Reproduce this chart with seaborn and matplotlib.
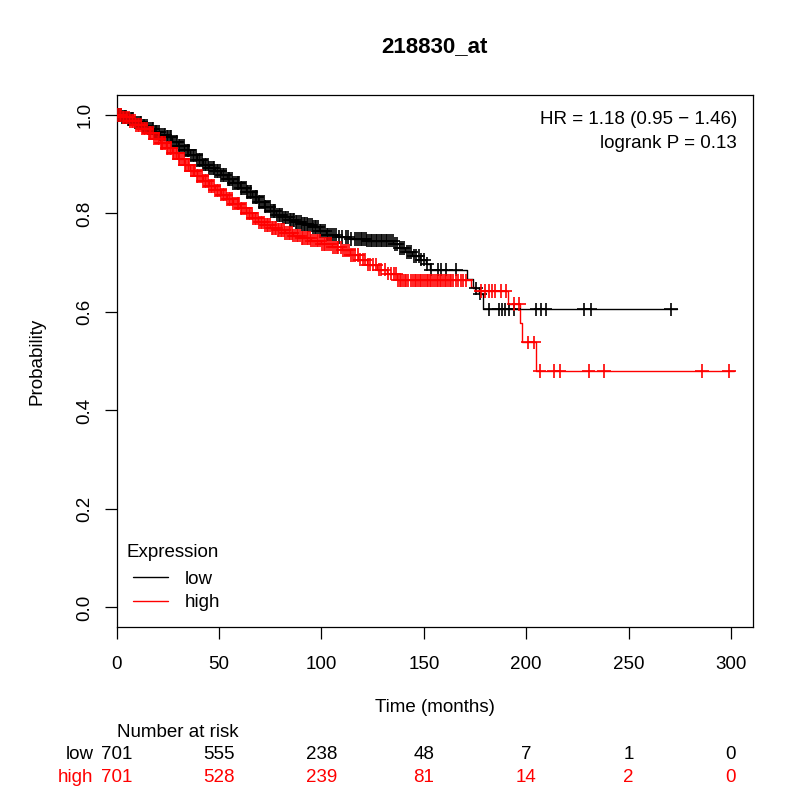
import numpy as np
import pandas as pd
import seaborn as sns
import matplotlib
import matplotlib.pyplot as plt
from matplotlib.lines import Line2D

matplotlib.use('Agg')

# Кривые Каплана-Мейера (время, вероятность)
low_time = [0, 2, 5, 9, 12, 15, 18, 21, 24, 27, 30, 33, 36, 39, 42, 45, 48, 51, 54, 57,
            60, 63, 66, 69, 72, 75, 78, 81, 84, 87, 90, 93, 96, 99, 102, 108, 114, 122,
            135, 138, 141, 144, 148, 151, 153, 171, 174, 177, 179, 273.6]
low_surv = [1.0, 0.996, 0.992, 0.985, 0.978, 0.972, 0.965, 0.960, 0.955, 0.945, 0.937,
            0.928, 0.918, 0.908, 0.899, 0.892, 0.886, 0.878, 0.870, 0.862, 0.852, 0.843,
            0.833, 0.823, 0.814, 0.805, 0.797, 0.792, 0.787, 0.783, 0.779, 0.776, 0.772,
            0.764, 0.757, 0.752, 0.748, 0.745, 0.738, 0.730, 0.722, 0.714, 0.706, 0.697,
            0.686, 0.666, 0.648, 0.637, 0.605, 0.605]

high_time = [0, 3, 6, 9, 12, 15, 18, 21, 24, 27, 30, 33, 36, 39, 42, 45, 48, 51, 54, 57,
             60, 63, 66, 69, 72, 75, 78, 82, 86, 90, 95, 100, 105, 110, 114, 118, 122,
             127, 132, 137, 173, 175, 191, 197, 198, 204.6, 301.5]
high_surv = [1.0, 0.995, 0.988, 0.980, 0.972, 0.963, 0.952, 0.943, 0.933, 0.922, 0.910,
             0.898, 0.887, 0.876, 0.866, 0.856, 0.847, 0.838, 0.829, 0.820, 0.810, 0.800,
             0.790, 0.782, 0.776, 0.770, 0.766, 0.760, 0.755, 0.750, 0.745, 0.738, 0.731,
             0.725, 0.716, 0.706, 0.696, 0.686, 0.678, 0.664, 0.651, 0.643, 0.616, 0.577,
             0.538, 0.480, 0.480]

# Цензурированные наблюдения (месяцы)
low_censor = [
    0.4, 1.1, 1.9, 2.4, 3.3, 3.9, 4.6, 5.4, 5.9, 6.8, 7.5, 8.1, 9.0, 9.6, 10.4, 11.2,
    11.7, 12.6, 13.3, 13.9, 14.8, 15.4, 16.2, 17.1, 17.6, 18.5, 19.2, 19.8, 20.7, 21.3,
    22.1, 22.9, 23.5, 24.4, 25.0, 25.8, 26.7, 27.2, 28.1, 28.9, 29.4, 30.3, 31.0, 31.8,
    32.6, 33.2, 34.1, 34.8, 35.4, 36.3, 37.0, 37.7, 38.6, 39.1, 40.0, 40.8, 41.4, 42.3,
    43.0, 43.7, 44.5, 45.2, 46.0, 46.8, 47.3, 48.2, 48.9, 49.6, 50.4, 51.1, 51.8, 52.6,
    53.2, 54.1, 54.8, 55.5, 56.3, 57.0, 57.7, 58.5, 59.2, 59.9, 60.7, 61.4, 62.1, 62.9,
    63.6, 64.3, 65.1, 65.8, 66.5, 67.3, 68.0, 68.7, 69.5, 70.2, 70.9, 71.7, 72.4, 73.1,
    73.9, 74.6, 75.3, 76.1, 76.8, 77.5, 78.3, 79.0, 79.8, 80.5, 81.3, 82.1, 82.8, 83.6,
    84.4, 85.1, 85.9, 86.7, 87.4, 88.2, 89.0, 89.8, 90.5, 91.3, 92.1, 92.9, 93.6, 94.4,
    95.2, 96.0, 96.8, 97.5, 98.3, 99.1, 99.9, 100.8, 101.6, 102.5, 103.3, 104.2, 105.0,
    105.9, 107.2, 108.5, 110.1, 111.8, 113.0, 114.5, 116.2, 117.4, 118.3, 119.1, 119.9,
    120.8, 121.6, 122.4, 123.2, 124.0, 124.9, 125.7, 126.5, 127.3, 128.1, 129.0, 129.8,
    130.6, 131.4, 132.2, 133.1, 133.9, 134.8, 135.9, 137.0, 138.2, 139.3, 140.4, 141.6,
    142.7, 143.9, 145.0, 146.3, 147.5, 148.8, 150.2, 151.6, 153.5, 156.8, 158.4, 160.8,
    165.7, 175.5, 177.5, 182, 186.5, 188, 189.8, 191.5, 194, 205, 207, 209.5, 228,
    231.5, 270.7]
high_censor = [
    0.8, 1.5, 2.2, 3.0, 3.7, 4.3, 5.2, 5.8, 6.6, 7.4, 8.0, 8.9, 9.5, 10.3, 11.0, 11.8,
    12.5, 13.2, 14.0, 14.7, 15.5, 16.2, 16.9, 17.7, 18.4, 19.1, 19.9, 20.6, 21.4, 22.2,
    22.8, 23.7, 24.3, 25.1, 25.9, 26.5, 27.4, 28.0, 28.8, 29.6, 30.3, 31.1, 31.7, 32.6,
    33.3, 34.0, 34.8, 35.5, 36.2, 37.0, 37.8, 38.4, 39.3, 39.9, 40.7, 41.5, 42.1, 43.0,
    43.7, 44.4, 45.2, 45.9, 46.7, 47.4, 48.1, 48.9, 49.6, 50.3, 51.1, 51.8, 52.6, 53.3,
    54.0, 54.8, 55.5, 56.2, 57.0, 57.7, 58.5, 59.2, 59.9, 60.7, 61.4, 62.2, 62.9, 63.6,
    64.4, 65.1, 65.9, 66.6, 67.3, 68.1, 68.8, 69.6, 70.3, 71.1, 71.8, 72.6, 73.3, 74.1,
    74.8, 75.6, 76.3, 77.1, 77.9, 78.6, 79.4, 80.1, 80.9, 81.7, 82.4, 83.2, 84.0, 84.8,
    85.5, 86.3, 87.1, 87.9, 88.7, 89.5, 90.3, 91.1, 91.9, 92.7, 93.5, 94.3, 95.1, 96.0,
    96.8, 97.6, 98.5, 99.3, 100.2, 101.0, 101.9, 102.8, 103.7, 104.6, 105.5, 106.4,
    107.4, 108.3, 109.3, 110.3, 111.3, 112.3, 113.4, 114.4, 115.5, 116.6, 117.8, 118.9,
    120.1, 121.3, 122.6, 123.9, 125.2, 126.5, 127.9, 129.3, 130.8, 132.3, 133.8, 135.4,
    136.6, 137.4, 138.2, 139.0, 139.8, 140.7, 141.5, 142.3, 143.5, 144.7, 145.5, 146.4,
    147.2, 148.0, 148.8, 149.7, 150.5, 151.3, 152.1, 152.9, 153.7, 154.5, 155.3, 156.2,
    157.0, 157.8, 158.6, 159.4, 160.2, 161.0, 161.9, 162.7, 163.5, 164.3, 165.5, 166.7,
    168.0, 169.2, 170.5, 178, 180, 182, 183.5, 185, 187.5, 190, 194, 196.4, 201, 203.7,
    206.6, 213.4, 216.3, 230.5, 237.9, 285.9, 299]

# Таблица числа под риском
risk_times = [0, 50, 100, 150, 200, 250, 300]
risk_low = [701, 555, 238, 48, 7, 1, 0]
risk_high = [701, 528, 239, 81, 14, 2, 0]

groups = ['low', 'high']
colors = {'low': 'black', 'high': '#FF0000'}
fs = 13.5

curves = pd.concat([
    pd.DataFrame({'time': low_time, 'surv': low_surv, 'group': 'low'}),
    pd.DataFrame({'time': high_time, 'surv': high_surv, 'group': 'high'}),
], ignore_index=True)


def surv_at(times, t_steps, s_steps):
    idx = np.searchsorted(t_steps, times, side='right') - 1
    return np.asarray(s_steps)[idx]


censors = pd.concat([
    pd.DataFrame({'time': low_censor,
                  'surv': surv_at(low_censor, low_time, low_surv), 'group': 'low'}),
    pd.DataFrame({'time': high_censor,
                  'surv': surv_at(high_censor, high_time, high_surv), 'group': 'high'}),
], ignore_index=True)

sns.set_theme(style='ticks')
plt.rcParams['font.family'] = ['Liberation Sans', 'DejaVu Sans']
plt.rcParams['text.color'] = 'black'
plt.rcParams['axes.labelcolor'] = 'black'

fig = plt.figure(figsize=(8, 8), dpi=100)
ax = fig.add_axes([0.146, 0.216, 0.795, 0.665])

sns.lineplot(data=curves, x='time', y='surv', hue='group', palette=colors,
             estimator=None, sort=False, drawstyle='steps-post', linewidth=1.0,
             legend=False, ax=ax)
sns.scatterplot(data=censors, x='time', y='surv', hue='group', palette=colors,
                marker='+', s=95, linewidth=1.2, legend=False, ax=ax, zorder=3)

ax.set_xlim(0, 310.7)
ax.set_ylim(-0.04, 1.04)
ax.set_xticks(risk_times)
ax.set_yticks([0, 0.2, 0.4, 0.6, 0.8, 1.0])
ax.set_yticklabels(['0.0', '0.2', '0.4', '0.6', '0.8', '1.0'], rotation=90, va='center')
ax.tick_params(direction='out', length=8.5, width=0.9, labelsize=fs, colors='black')
ax.tick_params(axis='x', pad=12)
ax.tick_params(axis='y', pad=8.5)
for sp in ax.spines.values():
    sp.set_visible(True)
    sp.set_linewidth(0.9)
    sp.set_color('black')

ax.set_xlabel('Time (months)', fontsize=fs)
ax.set_ylabel('Probability', fontsize=fs)
ax.xaxis.set_label_coords(0.5, -0.135)
ax.yaxis.set_label_coords(-0.112, 0.5)

fig.text(0.543, 1 - 47 / 800, '218830_at', ha='center', va='center',
         fontsize=16, fontweight='bold')

ax.text(0.975, 0.955, 'HR = 1.18 (0.95 \u2212 1.46)', transform=ax.transAxes,
        ha='right', va='center', fontsize=fs)
ax.text(0.975, 0.910, 'logrank P = 0.13', transform=ax.transAxes,
        ha='right', va='center', fontsize=fs)

# Легенда
ax.text(0.0157, 0.141, 'Expression', transform=ax.transAxes, ha='left', va='center',
        fontsize=fs)
handles = [Line2D([0], [0], color=colors[g], lw=1.0) for g in groups]
ax.legend(handles, groups, loc='upper left', bbox_to_anchor=(0.025, 0.106),
          frameon=False, fontsize=fs, handlelength=1.87, handletextpad=0.9,
          labelspacing=0.33, borderpad=0, borderaxespad=0)

# Число под риском
tr = ax.get_xaxis_transform()
ax.text(0, -0.197, 'Number at risk', transform=tr, ha='left', va='center',
        fontsize=fs, clip_on=False)
ax.text(-11.5, -0.239, 'low', transform=tr, ha='right', va='center',
        fontsize=fs, color=colors['low'], clip_on=False)
ax.text(-11.5, -0.282, 'high', transform=tr, ha='right', va='center',
        fontsize=fs, color=colors['high'], clip_on=False)
for t, nl, nh in zip(risk_times, risk_low, risk_high):
    ax.text(t, -0.239, str(nl), transform=tr, ha='center', va='center',
            fontsize=fs, color=colors['low'], clip_on=False)
    ax.text(t, -0.282, str(nh), transform=tr, ha='center', va='center',
            fontsize=fs, color=colors['high'], clip_on=False)

plt.savefig('out.png', dpi=100)
